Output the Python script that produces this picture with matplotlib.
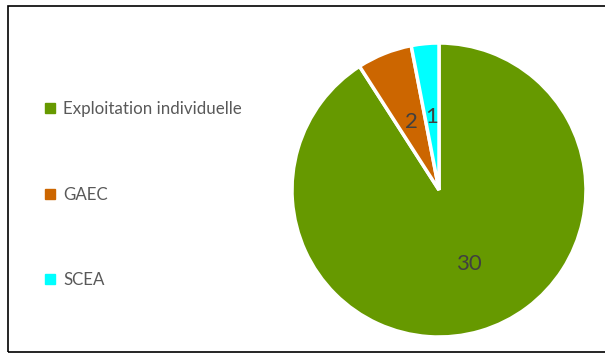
import matplotlib.pyplot as plt
from matplotlib.patches import Rectangle

# data
categories = ["Exploitation individuelle", "GAEC", "SCEA"]
counts = [30, 2, 1]
colors = ["#669900", "#CC6600", "#00FFFF"]

plt.rcParams['font.family'] = ['Lato', 'DejaVu Sans']

W, H = 605, 353
fig = plt.figure(figsize=(W / 100, H / 100), dpi=100)

# frame around the chart
fig.patches.append(Rectangle((8 / W, 1 / H), 1.2, (H - 7) / H, transform=fig.transFigure,
                             fill=False, edgecolor="#000000", linewidth=1.2))

cx, cy, r = 439, 353 - 190, 147
ax = fig.add_axes([(cx - r) / W, (cy - r) / H, 2 * r / W, 2 * r / H])
total = sum(counts)
wedges, texts, autotexts = ax.pie(
    counts, colors=colors, startangle=90, counterclock=False,
    autopct=lambda p: "%d" % round(p * total / 100.0), pctdistance=0.5,
    wedgeprops=dict(edgecolor="white", linewidth=2.5),
    textprops=dict(color="#404040", fontsize=16))
ax.set_xlim(-1, 1)
ax.set_ylim(-1, 1)
ax.set_aspect("equal")
autotexts[0].set_position((0.20, -0.50))

handles = [Rectangle((0, 0), 1, 1, color=c) for c in colors]
fig.legend(handles, categories, loc="upper left", bbox_to_anchor=(30 / W, 1 - 86 / H),
           frameon=False, fontsize=12.2, labelcolor="#595959",
           handlelength=0.55, handleheight=0.55, handletextpad=0.5, labelspacing=4.1)

fig.savefig("out.png", dpi=100)
